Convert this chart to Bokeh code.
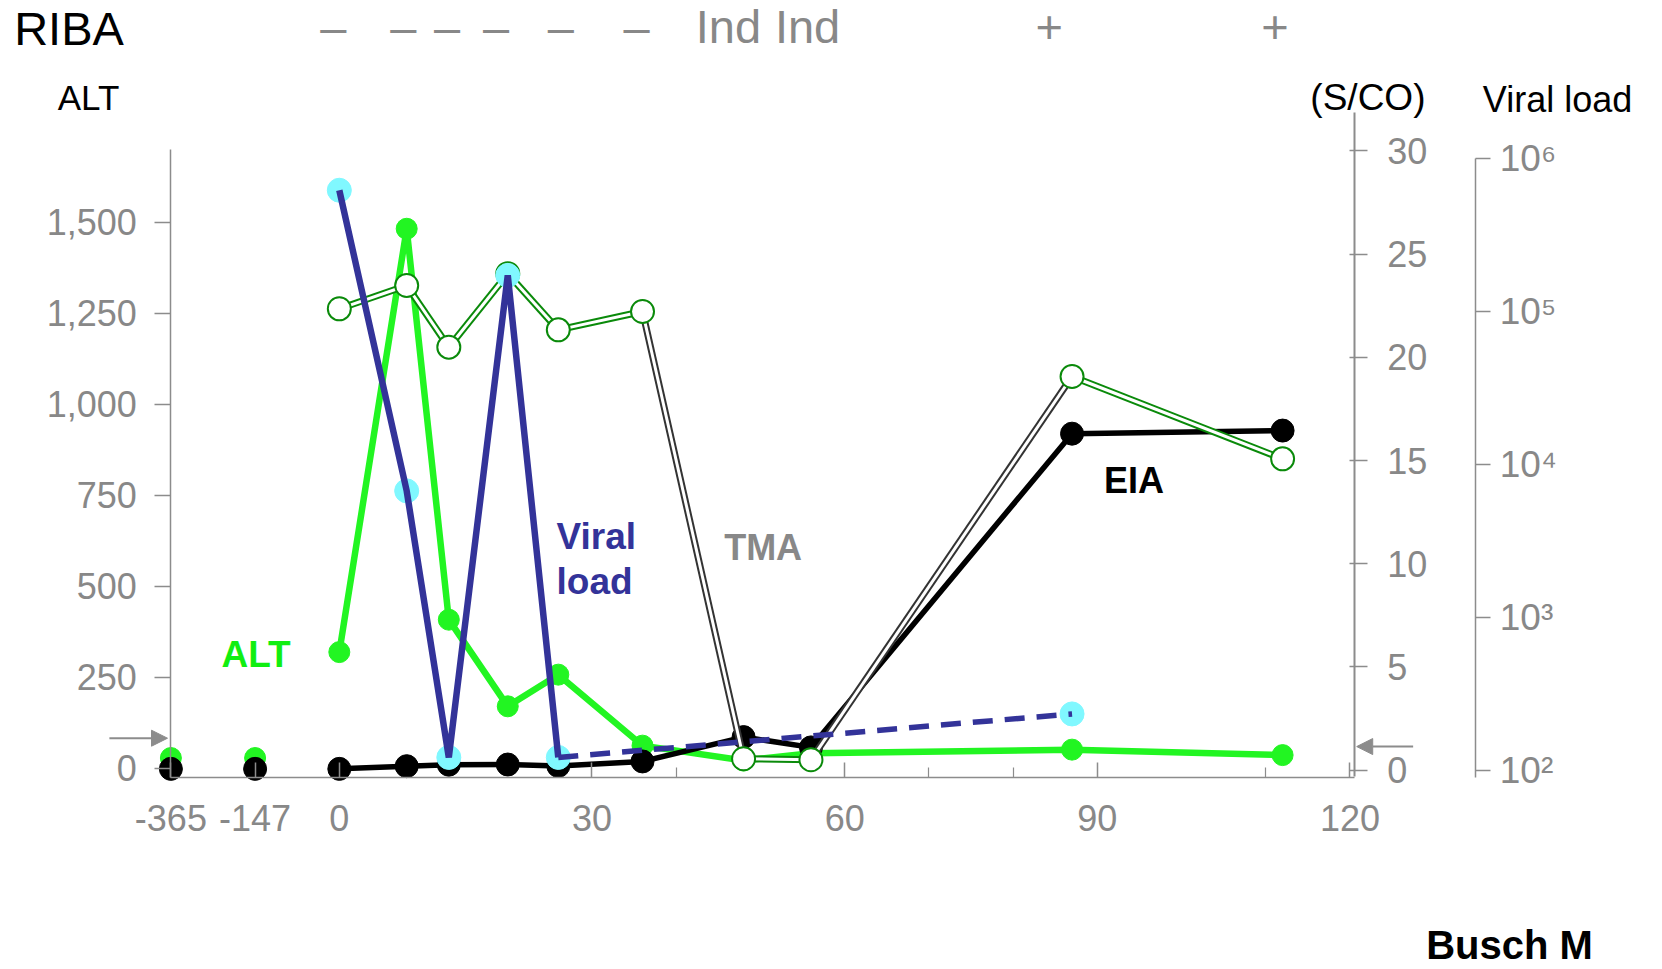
from bokeh.plotting import figure
from bokeh.models import (Range1d, LinearAxis, LogAxis, LogScale, FixedTicker,
                          NumeralTickFormatter, CustomJSTickFormatter, Arrow, NormalHead)
from bokeh.core.properties import value
from bokeh.embed import file_html
from bokeh.resources import INLINE

# ---------------- data ----------------
days = [-365, -147, 0, 8, 13, 20, 26, 36, 48, 56, 87, 112]
alt_values = [28, 28, 319, 1482, 408, 170, 257, 62, 21, 41, 51, 36]
eia_sco = [0.06, 0.06, 0.06, 0.19, 0.26, 0.27, 0.20, 0.42, 1.6, 1.1, 16.3, 16.45]

tma_days = [0, 8, 13, 20, 26, 36, 48, 56, 87, 112]
tma_sco = [22.35, 23.48, 20.49, 24.05, 21.33, 22.22, 0.55, 0.50, 19.07, 15.08]

# RIBA results, shown in a row above the panel at (roughly) the sample day
riba_days = [-0.7, 7.6, 12.8, 18.6, 26.3, 35.3, 46.2, 55.6, 84.3, 111.1]
riba_results = ["\u2013", "\u2013", "\u2013", "\u2013", "\u2013", "\u2013", "Ind", "Ind", "+", "+"]

vl_days = [0, 8, 13, 20, 26]
vl_copies = [6.2e5, 6.7e3, 121, 1.72e5, 121]
vl_dash_days = [26, 87]
vl_dash_copies = [121, 233]

x_tick_days = [-365, -147, 0, 30, 60, 90, 120]
x_minor_ticks = [40, 70, 80, 110]
alt_ticks = [0, 250, 500, 750, 1000, 1250, 1500]
sco_ticks = [0, 5, 10, 15, 20, 25, 30]
vl_ticks = [1e2, 1e3, 1e4, 1e5, 1e6]
sco_cutoff = 1.0

# broken axis: the two pre-index donations are drawn in compressed slots
pre_slot = {-365: -20, -147: -10}


def xpos(d):
    return pre_slot.get(d, d)


x_all = [xpos(d) for d in days]
post = [i for i, d in enumerate(days) if d >= 0]

# ---------------- colours / fonts ----------------
GRAY = "#888888"
AXIS = "#8c8c8c"
GREEN = "#22F522"
DKGREEN = "#0A8A0A"
NAVY = "#333399"
CYAN = "#80F8FF"
FONT = "Liberation Sans"

W, H = 1660, 966
p = figure(width=W, height=H, output_backend="svg", toolbar_location=None,
           x_range=Range1d(-40.23, 156.87), y_range=Range1d(-544.78, 2109.07),
           x_axis_location=None, y_axis_location=None, min_border=0,
           outline_line_color=None, background_fill_color="white")
p.grid.visible = False
p.extra_y_ranges = {"sco": Range1d(-9.5155, 37.287),
                    "vl": Range1d(10 ** 0.7155, 10 ** 7.0333)}
p.extra_y_scales = {"vl": LogScale()}


def style_axis(ax, size="36px"):
    ax.axis_line_color = AXIS
    ax.axis_line_width = 1.5
    ax.major_tick_line_color = AXIS
    ax.major_tick_line_width = 1.5
    ax.minor_tick_line_color = AXIS
    ax.minor_tick_line_width = 1.2
    ax.major_label_text_color = GRAY
    ax.major_label_text_font = FONT
    ax.major_label_text_font_size = size


# x axis
xaxis = LinearAxis(fixed_location=-24.2, bounds=(-20, 120.5),
                   ticker=FixedTicker(ticks=[xpos(d) for d in x_tick_days],
                                      minor_ticks=x_minor_ticks),
                   major_label_overrides={xpos(d): str(d) for d in x_tick_days if d in pre_slot})
style_axis(xaxis)
xaxis.major_tick_in = 15
xaxis.major_tick_out = 0
xaxis.minor_tick_in = 10
xaxis.minor_tick_out = 0
xaxis.major_label_standoff = 28
p.add_layout(xaxis, "below")

# ALT axis
alt_axis = LinearAxis(fixed_location=-20, bounds=(-24.2, 1700),
                      ticker=FixedTicker(ticks=alt_ticks),
                      formatter=NumeralTickFormatter(format="0,0"))
style_axis(alt_axis)
alt_axis.major_tick_out = 16
alt_axis.major_tick_in = 0
alt_axis.major_label_standoff = 18
p.add_layout(alt_axis, "left")

# S/CO axis
sco_axis = LinearAxis(y_range_name="sco", fixed_location=120.5, bounds=(-0.334, 31.88),
                      ticker=FixedTicker(ticks=sco_ticks))
style_axis(sco_axis)
sco_axis.axis_line_width = 2
sco_axis.major_tick_out = 13
sco_axis.major_tick_in = 5
sco_axis.major_label_standoff = 20
p.add_layout(sco_axis, "right")

# Viral load axis (log)
vl_axis = LogAxis(y_range_name="vl", fixed_location=134.94, bounds=(90.1, 1e6),
                  ticker=FixedTicker(ticks=vl_ticks),
                  formatter=CustomJSTickFormatter(code="""
const sup = {"0":"\u2070","1":"\u00b9","2":"\u00b2","3":"\u00b3","4":"\u2074",
             "5":"\u2075","6":"\u2076","7":"\u2077","8":"\u2078","9":"\u2079"};
const e = Math.round(Math.log10(tick));
return "10" + String(e).split("").map(c => sup[c]).join("");
"""))
style_axis(vl_axis, "37px")
vl_axis.major_tick_out = 15
vl_axis.major_tick_in = 0
vl_axis.major_label_standoff = 9
p.add_layout(vl_axis, "right")

# ---------------- series ----------------
# ALT (green)
p.line([x_all[i] for i in post], [alt_values[i] for i in post], line_color=GREEN, line_width=6.5)
p.scatter(x_all, alt_values, size=21, fill_color=GREEN, line_color=GREEN)

# EIA (black)
p.line([x_all[i] for i in post], [eia_sco[i] for i in post], line_color="black",
       line_width=5.5, y_range_name="sco")
p.scatter(x_all, eia_sco, size=23, fill_color="black", line_color="black", y_range_name="sco")

# TMA (double line, open circles)
x0 = tma_days[:-1]
x1 = tma_days[1:]
y0 = tma_sco[:-1]
y1 = tma_sco[1:]
seg_col = [DKGREEN if (a >= sco_cutoff) == (b >= sco_cutoff) else "#333333" for a, b in zip(y0, y1)]
p.segment(x0, y0, x1, y1, line_color=seg_col, line_width=7, y_range_name="sco")
p.segment(x0, y0, x1, y1, line_color="white", line_width=3, y_range_name="sco")
p.scatter(tma_days, tma_sco, size=23, fill_color="white", line_color=DKGREEN,
          line_width=2, y_range_name="sco")

# Viral load
p.scatter(vl_days + vl_dash_days[1:], vl_copies + vl_dash_copies[1:], size=24,
          fill_color=CYAN, line_color=CYAN, y_range_name="vl")
p.line(vl_days, vl_copies, line_color=NAVY, line_width=6.5, y_range_name="vl")
p.line(vl_dash_days, vl_dash_copies, line_color=NAVY, line_width=5.5, line_dash="20 12",
       y_range_name="vl")

# ---------------- arrows (cut-offs) ----------------
p.add_layout(Arrow(end=NormalHead(size=16, fill_color=AXIS, line_color=AXIS),
                   x_start=-27.3, y_start=82.4, x_end=-20.4, y_end=82.4,
                   line_color=AXIS, line_width=2))
p.add_layout(Arrow(end=NormalHead(size=16, fill_color=AXIS, line_color=AXIS),
                   x_start=127.5, y_start=1.14, x_end=120.8, y_end=1.14,
                   line_color=AXIS, line_width=2, y_range_name="sco"))

# ---------------- texts ----------------
def txt(x, y, t, size, color, bold=False, align="center"):
    p.text(x=x, y=y, text=t, text_font=value(FONT), text_font_size=value(size),
           text_color=color, text_align=align, text_baseline="alphabetic",
           text_font_style="bold" if bold else "normal")


txt([-38.61], [2031.9], ["RIBA"], "47px", "black", align="left")
txt(riba_days, [2036.5] * len(riba_days), riba_results, "47px", GRAY)
txt([-29.78], [1841.5], ["ALT"], "35px", "black")
txt([122.13], [1842.0], ["(S/CO)"], "37px", "black")
txt([144.65], [1837.9], ["Viral load"], "36px", "black")

txt([-9.89], [313.2], ["ALT"], "37px", "#11EE11", bold=True)
txt([25.79, 25.79], [636.3, 513.7], ["Viral", "load"], "37px", NAVY, bold=True, align="left")
txt([50.32], [606.3], ["TMA"], "36px", GRAY, bold=True)
txt([94.35], [791.2], ["EIA"], "36px", "black", bold=True)
txt([138.95], [-486.0], ["Busch M"], "40px", "black", bold=True)

open("out.html", "w").write(file_html(p, INLINE))
